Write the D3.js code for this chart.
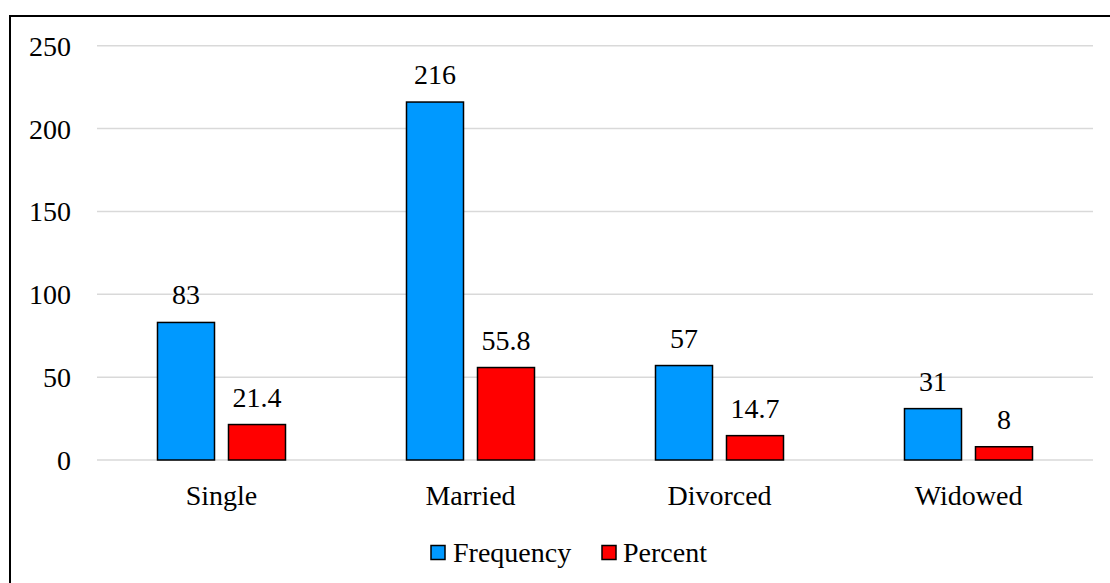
<!DOCTYPE html>
<html>
<head>
<meta charset="utf-8">
<script src="https://cdn.jsdelivr.net/npm/d3@7"></script>
<style>
  html, body { margin: 0; padding: 0; background: #fff; }
  svg { display: block; }
  svg text { font-family: "Times New Roman", "Liberation Serif", Tinos, "DejaVu Serif", serif !important; fill: #000; }
</style>
</head>
<body>
<svg id="chart" width="1110" height="583"></svg>
<script>
// Marital status of respondents
const categories = ["Single", "Married", "Divorced", "Widowed"];
const seriesNames = ["Frequency", "Percent"];
const frequency = [83, 216, 57, 31];
const percent = [21.4, 55.8, 14.7, 8];
const yTicks = [0, 50, 100, 150, 200, 250];
const seriesColors = ["#0099ff", "#ff0000"];

const W = 1110, H = 583;
const svg = d3.select("#chart");
const fontSize = 28;

// chart frame (runs past the right and bottom edges)
svg.append("rect")
  .attr("x", 10).attr("y", 16)
  .attr("width", W + 20).attr("height", H + 20)
  .attr("fill", "#fff")
  .attr("stroke", "#000").attr("stroke-width", 2);

const plotLeft = 97, plotRight = 1093;
const y = d3.scaleLinear().domain([0, 250]).range([460, 45.7]);
const x0 = d3.scaleBand().domain(categories).range([plotLeft, plotRight]).padding(0);
const x1 = d3.scaleBand().domain(seriesNames).range([0, x0.bandwidth()])
  .paddingInner(0.197).paddingOuter(0.852);
const color = d3.scaleOrdinal().domain(seriesNames).range(seriesColors);

// gridlines
svg.append("g").selectAll("line").data(yTicks).join("line")
  .attr("x1", plotLeft).attr("x2", plotRight)
  .attr("y1", d => y(d)).attr("y2", d => y(d))
  .attr("stroke", "#d9d9d9").attr("stroke-width", 1.5);

// y axis labels
const yAxis = d3.axisLeft(y).tickValues(yTicks).tickSize(0).tickPadding(0);
const gy = svg.append("g").attr("transform", "translate(71,0)").call(yAxis)
  .attr("font-family", null).attr("font-size", null);
gy.select(".domain").remove();
gy.selectAll("text")
  .attr("font-size", fontSize)
  .attr("fill", "#000")
  .attr("dy", "0.34em");

// category labels
const xAxis = d3.axisBottom(x0).tickSize(0).tickPadding(0);
const gx = svg.append("g").attr("transform", "translate(0,505)").call(xAxis)
  .attr("font-family", null).attr("font-size", null);
gx.select(".domain").remove();
gx.selectAll("text")
  .attr("font-size", fontSize)
  .attr("fill", "#000")
  .attr("dy", 0);

// bars
const rows = categories.map((c, i) => ({
  category: c,
  values: [
    { series: "Frequency", value: frequency[i] },
    { series: "Percent", value: percent[i] }
  ]
}));

const groups = svg.append("g").selectAll("g").data(rows).join("g")
  .attr("transform", d => `translate(${x0(d.category)},0)`);

groups.selectAll("rect").data(d => d.values).join("rect")
  .attr("x", d => x1(d.series))
  .attr("y", d => y(d.value))
  .attr("width", x1.bandwidth())
  .attr("height", d => y(0) - y(d.value))
  .attr("fill", d => color(d.series))
  .attr("stroke", "#000").attr("stroke-width", 1.5);

groups.selectAll("text").data(d => d.values).join("text")
  .attr("x", d => x1(d.series) + x1.bandwidth() / 2)
  .attr("y", d => y(d.value) - 18)
  .attr("text-anchor", "middle")
  .attr("font-size", fontSize)
  .text(d => d.value);

// legend
const legendItems = [
  { name: "Frequency", box: 431, text: 453 },
  { name: "Percent", box: 602, text: 623 }
];
const lg = svg.append("g");
lg.selectAll("rect").data(legendItems).join("rect")
  .attr("x", d => d.box).attr("y", 545.5)
  .attr("width", 14).attr("height", 14)
  .attr("fill", d => color(d.name))
  .attr("stroke", "#000").attr("stroke-width", 1.5);
lg.selectAll("text").data(legendItems).join("text")
  .attr("x", d => d.text).attr("y", 561.5)
  .attr("font-size", fontSize)
  .text(d => d.name);
</script>
</body>
</html>
